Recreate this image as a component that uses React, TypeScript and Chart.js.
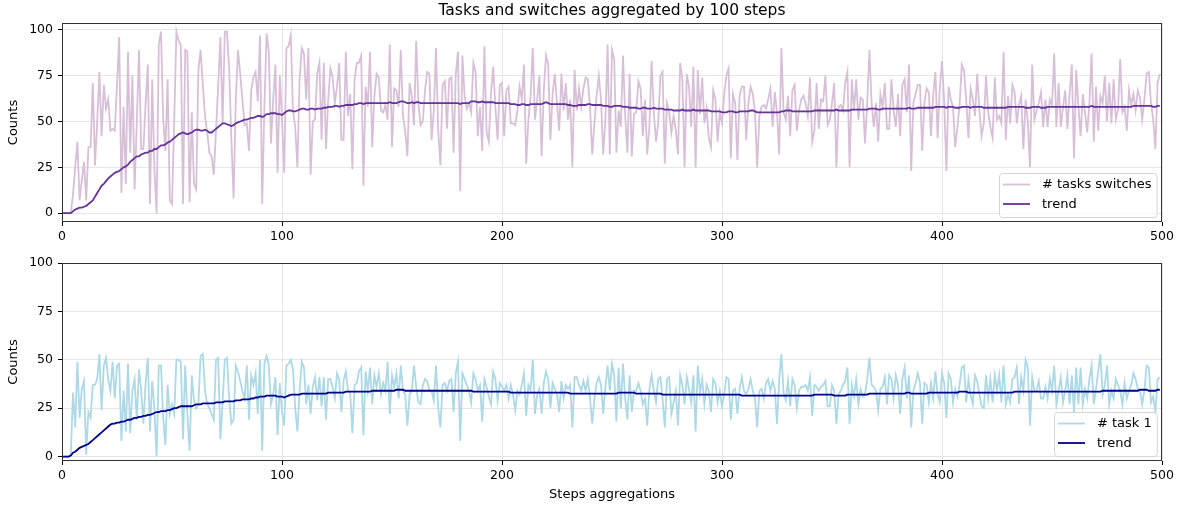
import React, { useEffect, useRef } from 'react';
import { Chart, registerables } from 'chart.js';

Chart.register(...registerables);

const FONT = "'DejaVu Sans', 'Liberation Sans', sans-serif";

const TITLE = 'Tasks and switches aggregated by 100 steps';
const X_TITLE = 'Steps aggregations';
const Y_TITLE = 'Counts';
const X_TICKS = [0, 100, 200, 300, 400, 500];
const Y_TICKS = [0, 25, 50, 75, 100];

const TOP_RAW_LABEL = '# tasks switches';
const BOTTOM_RAW_LABEL = '# task 1';
const TREND_LABEL = 'trend';

const TOP_RAW = [
  0, 0, 0, 0, 0, 10, 25, 39, 7, 18,
  28, 7, 36, 36, 71, 26, 50, 77, 42, 70,
  57, 62, 45, 46, 45, 70, 96, 11, 58, 16,
  88, 33, 75, 13, 50, 89, 35, 35, 60, 81,
  5, 73, 24, 0, 92, 99, 51, 34, 73, 7,
  5, 50, 99, 94, 92, 5, 89, 88, 6, 55,
  16, 13, 78, 89, 70, 53, 44, 33, 31, 21,
  45, 70, 96, 49, 99, 99, 78, 40, 8, 62,
  89, 76, 62, 48, 49, 34, 67, 74, 77, 61,
  97, 5, 58, 98, 88, 38, 62, 81, 22, 75,
  51, 22, 90, 91, 97, 56, 47, 25, 73, 90,
  87, 62, 90, 21, 50, 51, 76, 82, 40, 82,
  35, 62, 79, 74, 60, 69, 82, 40, 40, 88,
  53, 65, 24, 73, 82, 82, 86, 15, 69, 58,
  88, 36, 64, 76, 74, 56, 55, 59, 51, 92,
  36, 68, 67, 58, 89, 53, 45, 31, 71, 64,
  48, 94, 60, 48, 50, 67, 77, 76, 40, 56,
  90, 45, 26, 70, 72, 46, 73, 74, 33, 76,
  88, 12, 86, 64, 57, 60, 55, 82, 77, 42,
  58, 34, 91, 44, 39, 65, 80, 58, 40, 70,
  71, 42, 67, 69, 49, 49, 48, 56, 69, 62,
  81, 27, 51, 64, 90, 51, 62, 75, 31, 67,
  86, 81, 40, 65, 76, 60, 45, 76, 56, 71,
  51, 62, 25, 78, 56, 68, 58, 68, 74, 73,
  58, 32, 49, 64, 75, 62, 32, 51, 92, 32,
  89, 84, 33, 56, 47, 86, 53, 33, 76, 31,
  54, 55, 72, 68, 42, 62, 32, 47, 83, 55,
  39, 49, 75, 77, 27, 60, 55, 44, 53, 45,
  32, 82, 73, 25, 76, 69, 47, 80, 25, 78,
  54, 74, 49, 57, 41, 36, 67, 62, 39, 55,
  49, 65, 75, 79, 30, 65, 60, 29, 64, 69,
  69, 40, 60, 69, 65, 55, 25, 53, 58, 59,
  57, 62, 68, 47, 66, 55, 32, 90, 55, 51,
  64, 42, 67, 70, 45, 56, 62, 64, 60, 53,
  74, 39, 45, 71, 46, 62, 61, 75, 48, 51,
  60, 71, 25, 58, 59, 56, 71, 77, 25, 73,
  56, 73, 51, 63, 62, 38, 60, 89, 60, 47,
  60, 39, 65, 58, 71, 46, 46, 73, 56, 47,
  65, 42, 70, 73, 55, 81, 23, 60, 65, 70,
  70, 34, 60, 68, 66, 42, 65, 77, 41, 68,
  83, 61, 23, 69, 62, 58, 36, 47, 59, 81,
  78, 62, 41, 68, 62, 53, 76, 56, 42, 49,
  75, 55, 47, 41, 74, 51, 53, 49, 88, 40,
  64, 49, 70, 66, 49, 59, 64, 35, 62, 50,
  25, 81, 51, 56, 60, 66, 47, 62, 47, 62,
  59, 87, 47, 71, 47, 58, 67, 46, 65, 81,
  30, 78, 58, 42, 65, 55, 44, 60, 87, 39,
  69, 45, 64, 60, 75, 50, 71, 49, 73, 51,
  56, 84, 55, 58, 45, 67, 59, 65, 56, 67,
  63, 51, 62, 76, 77, 60, 51, 35, 71, 76,
];

const TOP_TREND = [
  0, 0, 0, 0, 0, 1, 2, 2.5, 3, 3,
  3.5, 4, 5, 6, 7, 9, 11, 13, 15, 16,
  17.5, 19, 20, 21, 22, 22.5, 23, 24, 25, 25.5,
  26.5, 28, 29, 30, 31, 31, 32, 32.5, 33, 33,
  34, 34, 35, 35, 36, 37, 37, 37.5, 38.5, 39,
  40, 41, 42, 43, 43.5, 44, 43.5, 43, 43.5, 44,
  45, 45.5, 45.5, 45, 45, 45.5, 45, 44, 44, 45,
  46, 47, 48, 49, 49, 48.5, 48, 47.5, 48, 49,
  49.5, 50, 50.5, 51, 51, 51.5, 52, 52, 52.5, 53,
  53, 52.5, 53, 54, 54, 54.5, 54.5, 54.5, 54, 54,
  53.5, 54.5, 55.5, 56, 56, 55.5, 55.5, 56, 56.5, 57,
  57, 56.5, 56.5, 57, 57, 56.5, 57, 57, 57, 57.5,
  57.5, 58, 58, 58, 58.5, 58.5, 58, 58.5, 58.5, 59,
  59, 59, 59, 59.5, 59.5, 60, 60, 59.5, 60, 60,
  60, 60, 60, 60, 60, 60, 60, 60, 60, 60.5,
  60, 60, 60, 60.5, 61, 61, 60.5, 60, 60, 60.5,
  60, 60.5, 60.5, 60, 60, 60, 60, 60, 60, 60,
  60, 60, 60, 60, 60, 60, 60, 60, 60, 60,
  60, 59.5, 60, 60, 60, 60, 61, 61, 61, 60.5,
  60.5, 61, 60.5, 60.5, 60.5, 60.5, 60.5, 60, 60, 60,
  60, 60, 60, 60, 59.5, 59.5, 59.5, 59, 59, 59.5,
  59.5, 59, 59, 59.5, 59.5, 59.5, 59.5, 59.5, 59.5, 60,
  60.5, 60, 59.5, 59.5, 59.5, 59.5, 59.5, 59.5, 59.5, 59.5,
  59, 59, 58.5, 58.5, 58.5, 59, 59, 59, 59, 59.5,
  59.5, 59, 59, 59, 59, 59, 58.5, 58.5, 58.5, 58,
  58, 58.5, 58.5, 58.5, 58.5, 58, 58, 58, 57.5, 57.5,
  57.5, 57.5, 57, 57, 57.5, 57.5, 57, 57, 57, 57.5,
  57, 57, 57, 57, 56.5, 56.5, 56.5, 56.5, 56, 56,
  56, 56, 56.5, 56, 56, 56, 56, 56.5, 56, 56,
  56, 56, 56, 56, 56, 55.5, 55.5, 55.5, 55.5, 55.5,
  55, 55, 55, 55.5, 55.5, 55.5, 55, 55, 55.5, 55.5,
  55.5, 55.5, 55.5, 56, 56, 55.5, 55, 55, 55, 55,
  55, 55, 55, 55, 55, 55, 55, 55.5, 55.5, 56,
  56, 56, 55.5, 55.5, 55.5, 55.5, 55.5, 55.5, 55.5, 55.5,
  55.5, 55.5, 56, 56, 56, 56, 56, 56, 56, 56,
  56, 56, 56.5, 56, 56, 56, 56, 56, 56, 56.5,
  56.5, 56.5, 56.5, 56.5, 56.5, 56.5, 56.5, 57, 57, 57,
  57, 56.5, 56.5, 57, 57, 57, 57, 57, 57, 57,
  57, 57, 57, 57, 57, 57.5, 57, 57, 57, 57.5,
  57.5, 57.5, 57.5, 57.5, 57.5, 57.5, 57.5, 58, 58, 58,
  58, 58, 57.5, 58, 58, 58, 57.5, 57.5, 57.5, 58,
  58, 58, 58, 57.5, 58, 58, 58, 58, 58, 57.5,
  57.5, 57.5, 57.5, 57.5, 57.5, 57.5, 57.5, 57.5, 57.5, 57.5,
  58, 58, 58, 58, 58, 58, 58, 58, 57.5, 57.5,
  57.5, 58, 58, 58, 58, 57.5, 57.5, 57.5, 58, 58,
  58, 58, 58, 58, 58, 58, 58, 58, 58, 58,
  58, 58, 58, 58, 58, 58, 58, 58, 58.5, 58,
  58, 58, 58, 58, 58, 58, 58, 58, 58, 58,
  58, 58, 58, 58, 58, 58, 58, 58.5, 58.5, 58.5,
  58.5, 58.5, 58.5, 58.5, 58.5, 58.5, 58, 58, 58.5, 58.5,
];

const BOTTOM_RAW = [
  0, 0, 0, 0, 1, 33, 15, 49, 20, 35,
  39, 1, 23, 20, 37, 37, 40, 53, 24, 47,
  51, 40, 34, 49, 30, 47, 48, 8, 34, 13,
  48, 12, 34, 40, 19, 45, 34, 17, 38, 51,
  13, 39, 25, 0, 47, 47, 20, 6, 37, 22,
  27, 22, 50, 50, 49, 9, 47, 22, 3, 42,
  29, 25, 27, 52, 53, 34, 27, 25, 22, 19,
  50, 51, 9, 28, 50, 51, 30, 17, 19, 47,
  44, 39, 34, 30, 47, 19, 42, 37, 43, 22,
  50, 3, 48, 52, 47, 27, 32, 41, 11, 38,
  23, 16, 47, 48, 50, 45, 25, 13, 34, 49,
  46, 27, 37, 22, 36, 41, 29, 41, 26, 41,
  19, 40, 40, 36, 30, 43, 40, 23, 39, 44,
  34, 33, 12, 37, 38, 44, 46, 11, 44, 34,
  46, 27, 42, 36, 43, 32, 38, 34, 49, 22,
  42, 36, 43, 30, 47, 34, 32, 16, 32, 34,
  47, 36, 28, 27, 37, 40, 39, 34, 34, 29,
  47, 25, 15, 37, 38, 34, 39, 40, 23, 43,
  49, 8, 43, 40, 37, 34, 28, 43, 40, 34,
  37, 18, 40, 36, 31, 27, 44, 40, 29, 38,
  36, 34, 37, 30, 37, 32, 24, 34, 32, 37,
  43, 21, 37, 34, 50, 22, 32, 35, 22, 38,
  44, 40, 25, 38, 35, 32, 23, 39, 30, 37,
  35, 37, 15, 41, 41, 37, 34, 39, 34, 40,
  30, 17, 30, 38, 41, 37, 22, 36, 47, 34,
  48, 42, 18, 46, 25, 48, 30, 19, 42, 23,
  34, 34, 38, 34, 27, 30, 16, 35, 42, 34,
  28, 40, 41, 30, 15, 40, 41, 22, 28, 34,
  16, 42, 37, 27, 41, 35, 28, 42, 13, 47,
  33, 40, 27, 37, 34, 23, 40, 38, 28, 34,
  26, 32, 41, 40, 19, 34, 35, 22, 35, 41,
  34, 32, 35, 40, 34, 30, 15, 34, 35, 30,
  38, 40, 34, 39, 35, 17, 40, 53, 33, 29,
  39, 26, 40, 37, 25, 34, 36, 36, 37, 34,
  41, 21, 37, 36, 34, 36, 37, 39, 26, 26,
  37, 34, 17, 32, 34, 37, 39, 46, 17, 37,
  31, 40, 27, 35, 31, 32, 40, 51, 37, 36,
  34, 24, 35, 36, 41, 27, 42, 40, 30, 42,
  37, 22, 40, 46, 30, 42, 15, 34, 38, 43,
  38, 17, 38, 37, 28, 38, 30, 44, 32, 28,
  43, 38, 20, 43, 40, 28, 35, 31, 37, 46,
  47, 28, 40, 32, 27, 42, 39, 32, 26, 25,
  42, 30, 40, 28, 42, 34, 42, 28, 47, 27,
  32, 28, 40, 41, 46, 27, 41, 34, 50, 46,
  16, 41, 34, 34, 39, 30, 30, 36, 30, 40,
  34, 47, 27, 34, 41, 28, 34, 42, 27, 42,
  23, 46, 27, 46, 27, 35, 30, 40, 47, 27,
  35, 44, 53, 32, 37, 47, 27, 34, 30, 40,
  37, 34, 27, 38, 30, 34, 37, 43, 40, 35,
  34, 27, 34, 47, 46, 28, 31, 23, 40, 41,
];

const BOTTOM_TREND = [
  0, 0, 0, 0, 0.5, 2, 2.5, 3.5, 4.5, 5,
  5.5, 6, 6.5, 7.5, 8.5, 9.5, 10.5, 11.5, 12.5, 13.5,
  14.5, 15.5, 16.5, 17, 17, 17.5, 17.5, 18, 18, 18.5,
  19, 19, 19.5, 20, 20, 20.5, 20.5, 21, 21, 21.5,
  21.5, 22, 22.5, 23, 23, 23.5, 23.5, 23.5, 24, 24,
  24.5, 25, 25, 25.5, 26, 26, 26, 26, 26, 26,
  26.5, 27, 27, 27, 27.5, 27.5, 27.5, 27.5, 27.5, 27.5,
  28, 28, 28, 28, 28.5, 28.5, 28.5, 28.5, 28.5, 29,
  29, 29, 29.5, 29.5, 29.5, 29.5, 30, 30, 30.5, 30.5,
  31, 31, 31, 31.5, 31.5, 31.5, 31.5, 31.5, 31, 31,
  31, 30.5, 31, 31.5, 32, 32, 32, 32, 32, 32.5,
  32.5, 32.5, 32.5, 32.5, 32.5, 32.5, 32.5, 32.5, 32.5, 32.5,
  32.5, 33, 33, 33, 33, 33, 33, 33, 33, 33.5,
  33.5, 33.5, 33.5, 33.5, 33.5, 33.5, 33.5, 33.5, 33.5, 33.5,
  33.5, 34, 34, 34, 34, 34, 34, 34, 34, 34,
  34, 34, 34.5, 34.5, 34.5, 34.5, 34, 34, 34, 34,
  34, 34, 34, 34, 34, 34, 34, 34, 34, 34,
  34, 34, 34, 34, 34, 34, 34, 34, 34, 34,
  34, 34, 34, 34, 34, 34, 34, 33.5, 33.5, 33.5,
  33.5, 33.5, 33.5, 33.5, 33.5, 33.5, 33.5, 33.5, 33.5, 33.5,
  33.5, 33.5, 33.5, 33.5, 33, 33, 33, 33, 33, 33,
  33, 33, 33, 33, 33, 33, 33, 33, 33, 33,
  33, 33, 33, 33, 33, 33, 33, 33, 33, 33,
  33, 32.5, 32.5, 32.5, 32.5, 32.5, 32.5, 32.5, 32.5, 32.5,
  32.5, 32.5, 32.5, 32.5, 32.5, 32.5, 32.5, 32.5, 32.5, 32.5,
  32.5, 32.5, 32.5, 33, 33, 33, 33, 33, 33, 33,
  33, 32.5, 32.5, 32.5, 32.5, 32.5, 32.5, 32.5, 32.5, 32.5,
  32.5, 32.5, 32.5, 32, 32, 32, 32, 32, 32, 32,
  32, 32, 32, 32, 32, 32, 32, 32, 32, 32,
  32, 32, 32, 32, 32, 32, 32, 32, 32, 32,
  32, 32, 32, 32, 32, 32, 32, 32, 32, 31.5,
  31.5, 31.5, 31.5, 31.5, 31.5, 31.5, 31.5, 31.5, 31.5, 31.5,
  31.5, 31.5, 31.5, 31.5, 31.5, 31.5, 31.5, 31.5, 31.5, 31.5,
  31.5, 31.5, 31.5, 31.5, 31.5, 31.5, 31.5, 31.5, 31.5, 31.5,
  31.5, 31.5, 32, 32, 32, 32, 32, 32, 32, 32,
  32, 31.5, 31.5, 31.5, 31.5, 31.5, 31.5, 32, 32, 32,
  32, 32, 32, 32, 32, 32, 32, 32.5, 32.5, 32.5,
  32.5, 32.5, 32.5, 32.5, 32.5, 32.5, 32.5, 32.5, 32.5, 32.5,
  32.5, 32.5, 32.5, 32.5, 33, 33, 32.5, 32.5, 32.5, 32.5,
  32.5, 32.5, 32.5, 32.5, 33, 33, 33, 33, 33, 33,
  33, 33, 33, 33, 33, 33, 33, 33, 33.5, 33.5,
  33.5, 33.5, 33, 33, 33, 33, 33, 33, 33, 33,
  33, 33, 33, 33, 33, 33, 33, 33, 33, 33,
  33, 33, 33, 33.5, 33.5, 33.5, 33.5, 33.5, 33.5, 33.5,
  33.5, 33.5, 33.5, 33.5, 33.5, 33.5, 33.5, 33.5, 33.5, 33.5,
  33.5, 33.5, 33.5, 33.5, 33.5, 33.5, 33.5, 33.5, 33.5, 33.5,
  33.5, 33.5, 33.5, 33.5, 33.5, 33.5, 33.5, 33.5, 33.5, 33.5,
  33.5, 33.5, 33.5, 34, 34, 34, 34, 34, 34, 34,
  34, 34, 34, 34, 34, 34, 34, 34, 34, 34,
  34.5, 34.5, 34.5, 34.5, 34, 34, 34, 34, 34.5, 34.5,
];

const TOP_RAW_COLOR = '#D8BFD8';
const TOP_TREND_COLOR = '#663399';
const BOTTOM_RAW_COLOR = '#ADD8E6';
const BOTTOM_TREND_COLOR = '#00008B';
const GRID_COLOR = '#e6e6e6';

const framePlugin = {
  id: 'frame',
  afterDatasetsDraw(chart: any) {
    const { ctx, chartArea: a } = chart;
    ctx.save();
    ctx.strokeStyle = '#333';
    ctx.lineWidth = 1;
    ctx.strokeRect(Math.round(a.left) + 0.5, Math.round(a.top) + 0.5,
      Math.round(a.right) - Math.round(a.left) - 1, Math.round(a.bottom) - Math.round(a.top) - 1);
    ctx.restore();
  },
};

const boxLegendPlugin = {
  id: 'boxLegend',
  afterDraw(chart: any, _args: any, opts: any) {
    const items = opts && opts.items;
    if (!items) return;
    const { ctx, chartArea: a } = chart;
    ctx.save();
    ctx.font = `13px ${FONT}`;
    const tw = Math.max(...items.map((it: any) => ctx.measureText(it.label).width));
    const w = 4 + 27 + 12 + tw + 5;
    const h = 44;
    const right = a.right - 5;
    const bottom = a.bottom - 5;
    const left = Math.round(right - w);
    const top = Math.round(bottom - h);
    ctx.beginPath();
    (ctx as any).roundRect(left + 0.5, top + 0.5, w, h, 3);
    ctx.fillStyle = 'rgba(255,255,255,0.8)';
    ctx.fill();
    ctx.strokeStyle = '#d4d4d4';
    ctx.lineWidth = 1;
    ctx.stroke();
    items.forEach((it: any, k: number) => {
      const y = top + 11.5 + k * 19.5;
      ctx.beginPath();
      ctx.moveTo(left + 4, y);
      ctx.lineTo(left + 31, y);
      ctx.strokeStyle = it.color;
      ctx.lineWidth = 1.8;
      ctx.stroke();
      ctx.fillStyle = '#000';
      ctx.textBaseline = 'middle';
      ctx.textAlign = 'left';
      ctx.fillText(it.label, left + 43, y + 0.5);
    });
    ctx.restore();
  },
};

function makeConfig(p: {
  raw: number[]; trend: number[]; rawLabel: string; rawColor: string; trendColor: string;
  yMin: number; yMax: number; title?: string; xTitle?: string; padTop: number; xHeight: number;
}): any {
  const tickFont = { family: FONT, size: 12.5 };
  const labelFont = { family: FONT, size: 13 };
  return {
    type: 'line',
    data: {
      datasets: [
        {
          label: p.rawLabel,
          data: p.raw.map((v, i) => ({ x: i, y: v })),
          borderColor: p.rawColor,
          borderWidth: 1.8,
          pointRadius: 0,
          fill: false,
          tension: 0,
          order: 2,
        },
        {
          label: TREND_LABEL,
          data: p.trend.map((v, i) => ({ x: i, y: v })),
          borderColor: p.trendColor,
          borderWidth: 1.8,
          pointRadius: 0,
          fill: false,
          tension: 0,
          order: 1,
        },
      ],
    },
    options: {
      animation: false,
      responsive: false,
      events: [],
      layout: { padding: { left: 0, right: 21, top: p.padTop, bottom: 0 } },
      plugins: {
        legend: { display: false },
        tooltip: { enabled: false },
        title: p.title
          ? {
              display: true,
              text: p.title,
              color: '#000',
              fullSize: false,
              font: { family: FONT, size: 15.5, weight: 'normal' },
              padding: { top: 1.5, bottom: 2.9 },
            }
          : { display: false },
        boxLegend: {
          items: [
            { label: p.rawLabel, color: p.rawColor },
            { label: TREND_LABEL, color: p.trendColor },
          ],
        },
      },
      scales: {
        x: {
          type: 'linear',
          min: 0,
          max: 500,
          afterBuildTicks: (s: any) => { s.ticks = X_TICKS.map((v) => ({ value: v })); },
          afterFit: (s: any) => { s.height = p.xHeight; },
          grid: { color: GRID_COLOR, tickColor: '#000', tickLength: 4, drawTicks: true },
          border: { display: false },
          ticks: { font: tickFont, color: '#000', padding: 3, maxRotation: 0, autoSkip: false },
          title: p.xTitle
            ? { display: true, text: p.xTitle, color: '#000', font: labelFont, padding: { top: 0, bottom: 4 } }
            : { display: false },
        },
        y: {
          type: 'linear',
          min: p.yMin,
          max: p.yMax,
          afterBuildTicks: (s: any) => { s.ticks = Y_TICKS.map((v) => ({ value: v })); },
          afterFit: (s: any) => { s.width = 62; },
          grid: { color: GRID_COLOR, tickColor: '#000', tickLength: 4, drawTicks: true },
          border: { display: false },
          ticks: { font: tickFont, color: '#000', padding: 5 },
          title: { display: true, text: Y_TITLE, color: '#000', font: labelFont, padding: { top: 6, bottom: 0 } },
        },
      },
    },
    plugins: [framePlugin, boxLegendPlugin],
  };
}

export default function App() {
  const topRef = useRef<HTMLCanvasElement>(null);
  const botRef = useRef<HTMLCanvasElement>(null);

  useEffect(() => {
    Chart.defaults.font.family = FONT;
    Chart.defaults.color = '#000';
    const c1 = new Chart(topRef.current as HTMLCanvasElement, makeConfig({
      raw: TOP_RAW, trend: TOP_TREND, rawLabel: TOP_RAW_LABEL,
      rawColor: TOP_RAW_COLOR, trendColor: TOP_TREND_COLOR,
      yMin: -4.8, yMax: 103.7, title: TITLE, padTop: 0, xHeight: 28,
    }));
    const c2 = new Chart(botRef.current as HTMLCanvasElement, makeConfig({
      raw: BOTTOM_RAW, trend: BOTTOM_TREND, rawLabel: BOTTOM_RAW_LABEL,
      rawColor: BOTTOM_RAW_COLOR, trendColor: BOTTOM_TREND_COLOR,
      yMin: -2.3, yMax: 100, xTitle: X_TITLE, padTop: 13, xHeight: 45,
    }));
    return () => { c1.destroy(); c2.destroy(); };
  }, []);

  return (
    <div style={{ position: 'fixed', left: 0, top: 0, width: 1183, height: 506, background: '#fff' }}>
      <canvas ref={topRef} width={1183} height={250}
        style={{ position: 'absolute', left: 0, top: 0, width: 1183, height: 250 }} />
      <canvas ref={botRef} width={1183} height={256}
        style={{ position: 'absolute', left: 0, top: 250, width: 1183, height: 256 }} />
    </div>
  );
}
